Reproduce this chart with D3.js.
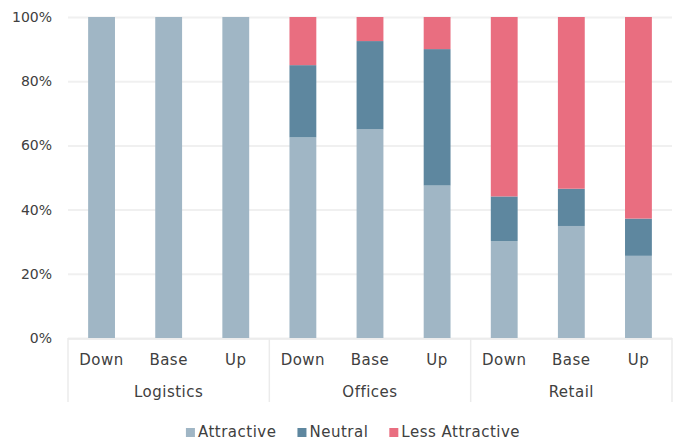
<!DOCTYPE html>
<html>
<head>
<meta charset="utf-8">
<script src="https://cdn.jsdelivr.net/npm/d3@7"></script>
<style>
  html, body { margin: 0; padding: 0; background: #fff; }
  svg text { font-family: "DejaVu Sans", "Open Sans", sans-serif; fill: #404040; }
</style>
</head>
<body>
<svg id="chart" width="673" height="440"></svg>
<script>
// Sectors and scenarios along the x axis
const sectors = ["Logistics", "Offices", "Retail"];
const scenarios = ["Down", "Base", "Up"];

// Share of responses (%) per sector/scenario, in sector-major order
const attractive     = [100, 100, 100, 62.5, 65, 47.5, 30.2, 34.9, 25.6];
const neutral        = [0, 0, 0, 22.5, 27.5, 42.5, 13.9, 11.6, 11.6];
const lessAttractive = [0, 0, 0, 15, 7.5, 10, 55.9, 53.5, 62.8];

const seriesNames = ["Attractive", "Neutral", "Less Attractive"];
const seriesColors = ["#a0b6c5", "#5e879f", "#e96e80"];
const yTicks = [0, 20, 40, 60, 80, 100];

const rows = [];
sectors.forEach((s, i) => scenarios.forEach((sc, j) => {
  const k = i * scenarios.length + j;
  rows.push({
    key: s + "|" + sc, sector: s, scenario: sc,
    "Attractive": attractive[k],
    "Neutral": neutral[k],
    "Less Attractive": lessAttractive[k]
  });
}));

const svg = d3.select("#chart");
const margin = { left: 68, right: 1, top: 17, bottom: 102 };
const W = 673, H = 440;

const x = d3.scaleBand()
  .domain(rows.map(d => d.key))
  .range([margin.left, W - margin.right])
  .paddingInner(0.6).paddingOuter(0.3);

const y = d3.scaleLinear().domain([0, 100]).range([H - margin.bottom, margin.top]);

// Horizontal gridlines and y tick labels
const yAxis = d3.axisLeft(y).tickValues(yTicks).tickFormat(d => d + "%")
  .tickSize(-(W - margin.right - margin.left)).tickPadding(16);
const gy = svg.append("g").attr("transform", `translate(${margin.left},0)`).call(yAxis);
gy.select(".domain").remove();
gy.selectAll(".tick line").attr("stroke", "#f0f0f0").attr("stroke-width", 2);
gy.selectAll(".tick text").style("font-size", "14px").attr("fill", "#404040")
  .style("font-family", "'DejaVu Sans', sans-serif");

// Stacked bars
const stack = d3.stack().keys(seriesNames);
const layers = stack(rows);
const color = d3.scaleOrdinal().domain(seriesNames).range(seriesColors);

svg.append("g").selectAll("g")
  .data(layers).join("g")
  .attr("fill", d => color(d.key))
  .selectAll("rect")
  .data(d => d).join("rect")
  .attr("x", d => x(d.data.key))
  .attr("width", x.bandwidth())
  .attr("y", d => y(d[1]))
  .attr("height", d => Math.max(0, y(d[0]) - y(d[1])));

// Category axis: baseline, scenario labels, group separators and sector labels
const y0 = y(0);
const axisCol = "#ebebeb";
svg.append("line").attr("x1", margin.left).attr("x2", W - margin.right)
  .attr("y1", y0 + 1).attr("y2", y0 + 1).attr("stroke", axisCol).attr("stroke-width", 1.5);

const groupWidth = (W - margin.right - margin.left) / sectors.length;
const sepX = d3.range(sectors.length + 1).map(i => margin.left + i * groupWidth);
svg.append("g").selectAll("line").data(sepX).join("line")
  .attr("x1", d => d).attr("x2", d => d)
  .attr("y1", y0).attr("y2", y0 + 64)
  .attr("stroke", axisCol).attr("stroke-width", 1.5);

const labelStyle = sel => sel.style("font-size", "15px").style("letter-spacing", "0.5px");

svg.append("g").selectAll("text").data(rows).join("text")
  .attr("x", d => x(d.key) + x.bandwidth() / 2)
  .attr("y", y0 + 27)
  .attr("text-anchor", "middle")
  .call(labelStyle)
  .text(d => d.scenario);

svg.append("g").selectAll("text").data(sectors).join("text")
  .attr("x", (d, i) => margin.left + (i + 0.5) * groupWidth)
  .attr("y", y0 + 59)
  .attr("text-anchor", "middle")
  .call(labelStyle)
  .text(d => d);

// Legend
const legend = svg.append("g");
const items = legend.selectAll("g").data(seriesNames).join("g");
items.append("rect").attr("width", 9).attr("height", 9).attr("y", -9)
  .attr("fill", d => color(d));
items.append("text").attr("x", 12).attr("y", 0).call(labelStyle).text(d => d);
let lx = 0;
items.each(function () {
  d3.select(this).attr("transform", `translate(${lx},0)`);
  lx += this.getBBox().width + 21;
});
lx -= 21;
legend.attr("transform", `translate(${(margin.left + W - margin.right) / 2 - lx / 2 - 17},437)`);
</script>
</body>
</html>
